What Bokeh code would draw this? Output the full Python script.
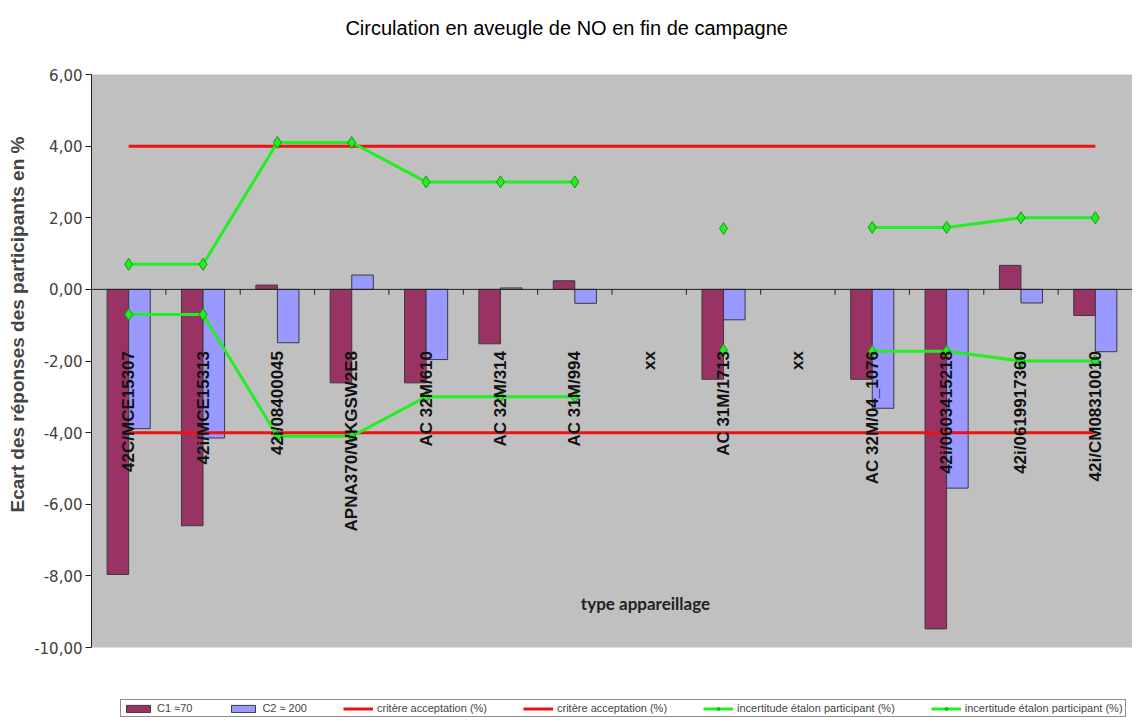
import math
from bokeh.plotting import figure
from bokeh.models import (ColumnDataSource, Range1d, FixedTicker, CustomJSTickFormatter,
                          Span, Label, Legend, LegendItem, Title, BoxAnnotation)
from bokeh.core.properties import value
from bokeh.embed import file_html
from bokeh.resources import INLINE

nan = float("nan")

categories = ["42C/MCE15307", "42i/MCE15313", "42i/08400045", "APNA370/WKGSW2E8",
              "AC 32M/610", "AC 32M/314", "AC 31M/994", "xx", "AC 31M/1713", "xx",
              "AC 32M/04_1076", "42i/0603415218", "42i/0619917360", "42i/CM08310010"]
c1_values = [-7.96, -6.60, 0.12, -2.61, -2.61, -1.52, 0.24, nan, -2.51, nan, -2.51, -9.48, 0.67, -0.73]
c2_values = [-3.89, -4.15, -1.49, 0.40, -1.96, 0.04, -0.39, nan, -0.85, nan, -3.32, -5.55, -0.38, -1.74]
crit_upper = [4.0, 4.0, 4.0, 4.0, 4.0, 4.0, 4.0, 4.0, 4.0, 4.0, 4.0, 4.0, 4.0, 4.0]
crit_lower = [-4.0, -4.0, -4.0, -4.0, -4.0, -4.0, -4.0, -4.0, -4.0, -4.0, -4.0, -4.0, -4.0, -4.0]
incert_upper = [0.70, 0.70, 4.10, 4.10, 3.00, 3.00, 3.00, nan, 1.70, nan, 1.73, 1.73, 2.00, 2.00]
incert_lower = [-0.70, -0.70, -4.10, -4.10, -3.00, -3.00, -3.00, nan, -1.70, nan, -1.73, -1.73, -2.00, -2.00]
y_ticks = [-10, -8, -6, -4, -2, 0, 2, 4, 6]

title_text = "Circulation en aveugle de NO en fin de campagne"
y_label = "Ecart des réponses des participants en %"
x_label = "type appareillage"
legend_labels = ["C1 \u224870", "C2 \u2248 200", "critère acceptation (%)", "critère acceptation (%)",
                 "incertitude étalon participant (%)", "incertitude étalon participant (%)"]

# layout (pixels)
W, H = 1132, 718
left_border = 83
area_top, area_bottom = 74, 647      # pixel rows of 6,00 and -10,00
y_lo, y_hi = -10, 6
pxu = (area_bottom - area_top) / (y_hi - y_lo)
view_hi = y_hi + area_top / pxu
view_lo = y_lo - (H - area_bottom) / pxu

n = len(categories)
xc = [i + 0.5 for i in range(n)]
bw = 0.29

src = ColumnDataSource(dict(
    x=xc,
    x1=[x - bw / 2 for x in xc],
    x2=[x + bw / 2 for x in xc],
    cat=categories,
    c1=c1_values, c2=c2_values,
    cu=crit_upper, cl=crit_lower,
    iu=incert_upper, il=incert_lower,
))

p = figure(width=W, height=H, output_backend="svg", toolbar_location=None,
           x_range=Range1d(0, n), y_range=Range1d(view_lo, view_hi),
           min_border_left=left_border, min_border_right=0, min_border_top=0, min_border_bottom=0)
p.title.visible = False
p.background_fill_color = "white"
p.border_fill_color = "white"
p.outline_line_color = None
p.xgrid.visible = False
p.ygrid.visible = False
p.xaxis.visible = False

# grey plot area
p.add_layout(BoxAnnotation(bottom=y_lo, top=y_hi, fill_color="#C0C0C0", fill_alpha=1,
                           line_color=None, level="underlay"))

ya = p.yaxis[0]
ya.bounds = (y_lo, y_hi)
ya.ticker = FixedTicker(ticks=y_ticks)
ya.formatter = CustomJSTickFormatter(code="return tick.toFixed(2).replace('.', ',');")
ya.major_label_text_font = "DejaVu Sans"
ya.major_label_text_font_size = "15px"
ya.major_label_text_color = "#404040"
ya.major_tick_out = 6
ya.major_tick_in = 0
ya.minor_tick_line_color = None
ya.major_label_standoff = 3
ya.axis_line_color = "#202020"
ya.major_tick_line_color = "#202020"

p.add_layout(Title(text=y_label, text_font="Liberation Sans", text_font_size="19px",
                   text_font_style="bold", align="left", offset=H - 512, standoff=8), "left")

# title inside the canvas
p.add_layout(Label(x=6.39, y=y_hi + (area_top - 27) / pxu, text=title_text,
                   text_align="center", text_baseline="middle",
                   text_font="Liberation Sans", text_font_size="20px", text_color="#000000"))

# bars
r_c1 = p.vbar(x="x1", width=bw, top="c1", bottom=0, source=src,
              fill_color="#993366", line_color="#3A3A3A", line_width=1)
r_c2 = p.vbar(x="x2", width=bw, top="c2", bottom=0, source=src,
              fill_color="#9999FF", line_color="#3A3A3A", line_width=1)

# category axis at zero
p.add_layout(Span(location=0, dimension="width", line_color="#202020", line_width=1))
bounds = list(range(1, n))
p.segment(x0=bounds, x1=bounds, y0=[0] * len(bounds), y1=[-0.15] * len(bounds),
          line_color="#202020", line_width=1)

# acceptance criteria
red = "#EE1111"
r_cu = p.line("x", "cu", source=src, line_color=red, line_width=3)
r_cl = p.line("x", "cl", source=src, line_color=red, line_width=3)

# uncertainty
green = "#22EE22"
r_iu = p.line("x", "iu", source=src, line_color=green, line_width=3)
s_iu = p.scatter("x", "iu", source=src, marker="diamond", size=12,
                 fill_color=green, line_color="#119911", line_width=1)
r_il = p.line("x", "il", source=src, line_color=green, line_width=3)
s_il = p.scatter("x", "il", source=src, marker="diamond", size=12,
                 fill_color=green, line_color="#119911", line_width=1)

# category labels
p.text(x="x", y=-1.72, text="cat", source=src, angle=math.pi / 2,
       text_align="right", text_baseline="middle",
       text_font=value("Liberation Sans"), text_font_size="17px",
       text_font_style="bold", text_color="#111111")

p.add_layout(Label(x=7.45, y=-8.78, text=x_label, text_align="center", text_baseline="middle",
                   text_font="Lato", text_font_size="17px", text_font_style="bold",
                   text_color="#222222"))

legend = Legend(items=[
    LegendItem(label=legend_labels[0], renderers=[r_c1]),
    LegendItem(label=legend_labels[1], renderers=[r_c2]),
    LegendItem(label=legend_labels[2], renderers=[r_cu]),
    LegendItem(label=legend_labels[3], renderers=[r_cl]),
    LegendItem(label=legend_labels[4], renderers=[r_iu, s_iu]),
    LegendItem(label=legend_labels[5], renderers=[r_il, s_il]),
], orientation="horizontal", location=(29, 1))
legend.label_text_font = "Liberation Sans"
legend.label_text_font_size = "11px"
legend.label_height = 11
legend.label_standoff = 4
legend.glyph_width = 30
legend.glyph_height = 9
legend.spacing = 36
legend.padding = 2
legend.margin = 0
legend.border_line_color = "#202020"
legend.border_line_width = 1
legend.background_fill_color = "white"
legend.background_fill_alpha = 1
p.add_layout(legend, "center")

open("out.html", "w").write(file_html(p, INLINE))
